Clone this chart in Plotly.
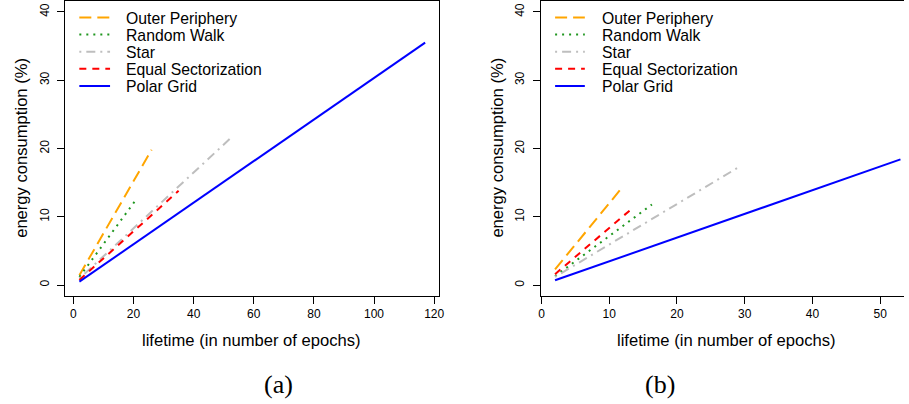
import plotly.graph_objects as go

W, H = 909, 404

series_names = ["Outer Periphery", "Random Walk", "Star", "Equal Sectorization", "Polar Grid"]
series_colors = ["#FFA500", "#1E961E", "#BEBEBE", "#FF0000", "#0000FF"]
series_dash = ["12px,6px", "2px,5px", "2px,5px,9px,5px", "7px,6px", "solid"]

# panel (a): lifetime (epochs) vs energy consumption (%)
a_op_x = [2, 26];  a_op_y = [1.45, 19.8]
a_rw_x = [2, 21];  a_rw_y = [1.2, 12.6]
a_st_x = [2, 53];  a_st_y = [0.95, 21.8]
a_es_x = [2, 35];  a_es_y = [0.75, 13.8]
a_pg_x = [2, 117]; a_pg_y = [0.5, 35.5]

# panel (b)
b_op_x = [2, 12];  b_op_y = [2.3, 14.4]
b_rw_x = [2, 16.3];  b_rw_y = [1.3, 11.8]
b_st_x = [2, 29];  b_st_y = [1.2, 17.2]
b_es_x = [2, 13];  b_es_y = [1.6, 10.9]
b_pg_x = [2, 53];  b_pg_y = [0.7, 18.4]

a_xticks = [0, 20, 40, 60, 80, 100, 120]
b_xticks = [0, 10, 20, 30, 40, 50]
yticks = [0, 10, 20, 30, 40]

panel_a = [(a_op_x, a_op_y), (a_rw_x, a_rw_y), (a_st_x, a_st_y), (a_es_x, a_es_y), (a_pg_x, a_pg_y)]
panel_b = [(b_op_x, b_op_y), (b_rw_x, b_rw_y), (b_st_x, b_st_y), (b_es_x, b_es_y), (b_pg_x, b_pg_y)]

FONT = "Liberation Sans, Arial, sans-serif"

fig = go.Figure()
for i, (xs, ys) in enumerate(panel_a):
    fig.add_trace(go.Scatter(x=xs, y=ys, mode="lines", name=series_names[i], showlegend=False,
                             line=dict(color=series_colors[i], width=2, dash=series_dash[i]),
                             xaxis="x", yaxis="y"))
for i, (xs, ys) in enumerate(panel_b):
    fig.add_trace(go.Scatter(x=xs, y=ys, mode="lines", name=series_names[i], showlegend=False,
                             line=dict(color=series_colors[i], width=2, dash=series_dash[i]),
                             xaxis="x2", yaxis="y2"))

def px(x):
    return x / W

def py(y):
    return 1 - y / H

axis_common = dict(showgrid=False, zeroline=False, showline=True, linecolor="black", linewidth=1,
                   ticks="outside", ticklen=7, tickcolor="black", tickwidth=1,
                   tickfont=dict(family=FONT, size=12, color="black"))

fig.update_layout(
    width=W, height=H,
    margin=dict(l=0, r=0, t=0, b=0),
    paper_bgcolor="white", plot_bgcolor="white",
    showlegend=False,
    xaxis=dict(domain=[px(63), px(440)], range=[-2.64, 121.65], tickvals=a_xticks,
               mirror=True, anchor="y", **axis_common),
    yaxis=dict(domain=[py(296), py(1)], range=[-1.6, 41.6], tickvals=yticks, tickangle=-90,
               mirror=True, anchor="x", ticklabelstandoff=4, **axis_common),
    xaxis2=dict(domain=[px(543), 1.0], range=[-0.04, 53.52], tickvals=b_xticks,
                mirror=True, anchor="y2", **axis_common),
    yaxis2=dict(domain=[py(296), py(1)], range=[-1.6, 41.6], tickvals=yticks, tickangle=-90,
                mirror=False, anchor="x2", ticklabelstandoff=4, **axis_common),
)

ann = []
title_font = dict(family=FONT, size=16.6, color="black")
ann.append(dict(text="lifetime (in number of epochs)", x=px(251), y=py(340), xref="paper", yref="paper",
                showarrow=False, font=title_font, xanchor="center", yanchor="middle"))
ann.append(dict(text="lifetime (in number of epochs)", x=px(730), y=py(340), xref="paper", yref="paper",
                showarrow=False, font=title_font, xanchor="center", yanchor="middle"))
ann.append(dict(text="energy consumption (%)", x=px(18), y=py(148), xref="paper", yref="paper",
                showarrow=False, font=title_font, textangle=-90, xanchor="center", yanchor="middle"))
ann.append(dict(text="energy consumption (%)", x=px(498), y=py(148), xref="paper", yref="paper",
                showarrow=False, font=title_font, textangle=-90, xanchor="center", yanchor="middle"))
cap_font = dict(family="Liberation Serif, Times New Roman, serif", size=26, color="black")
ann.append(dict(text="(a)", x=px(278), y=py(384), xref="paper", yref="paper", showarrow=False,
                font=cap_font, xanchor="center", yanchor="middle"))
ann.append(dict(text="(b)", x=px(663), y=py(384), xref="paper", yref="paper", showarrow=False,
                font=cap_font, xanchor="center", yanchor="middle"))

# legends (manual, R-style)
leg_rows = [17.5, 34.6, 51.7, 68.8, 86.0]
shapes = []
leg_font = dict(family=FONT, size=15.75, color="black")
for (lx0, lx1, tx) in [(77, 108, 122.5), (557, 587, 602)]:
    for i, name in enumerate(series_names):
        yy = leg_rows[i]
        shapes.append(dict(type="line", xref="paper", yref="paper", x0=px(lx0), x1=px(lx1),
                           y0=py(yy), y1=py(yy),
                           line=dict(color=series_colors[i], width=2, dash=series_dash[i])))
        ann.append(dict(text=name, x=px(tx), y=py(yy + 0.5), xref="paper", yref="paper", showarrow=False,
                        font=leg_font, xanchor="left", yanchor="middle"))

fig.update_layout(annotations=ann, shapes=shapes)
fig.write_html("out.html")
